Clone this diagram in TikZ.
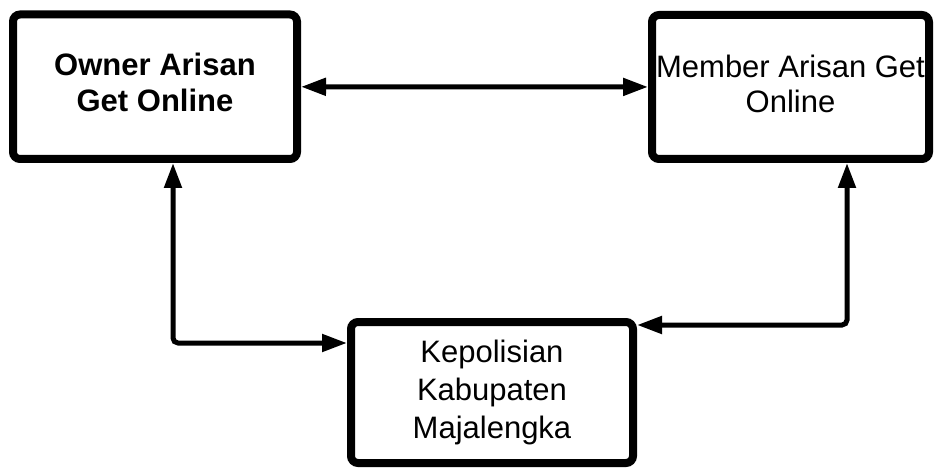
\documentclass[tikz,border=0pt]{standalone}
\usepackage{fontspec}
\setmainfont{Liberation Sans}
\usetikzlibrary{arrows.meta}
\begin{document}
\begin{tikzpicture}[x=1pt,y=-1pt,
  box/.style={draw=black, line width=8pt, rounded corners=7pt, inner sep=0pt, fill=white, align=center},
  conn/.style={line width=5pt, {Triangle[length=25pt,width=17pt]}-{Triangle[length=25pt,width=17pt]}, rounded corners=5pt}]
\useasboundingbox[fill=white] (0,0) rectangle (935,468);
\node[box, minimum width=284pt, minimum height=144.5pt, text depth=8pt, font=\fontsize{31}{36}\selectfont\bfseries] (owner) at (155,86.75) {Owner Arisan\\Get Online};
\node[box, minimum width=277pt, minimum height=144pt, text depth=7pt, font=\fontsize{31}{35}\selectfont] (member) at (790.5,87) {Member Arisan Get\\Online};
\node[box, minimum width=282pt, minimum height=141pt, font=\fontsize{31}{38}\selectfont] (kep) at (492,392.5) {Kepolisian\\Kabupaten\\Majalengka};
\coordinate (lc) at (173,343);
\coordinate (rc) at (847,325);
\draw[conn] (owner) -- (member);
\draw[conn] (owner.south -| lc) |- (kep.west |- lc);
\draw[conn] (member.south -| rc) |- (kep.east |- rc);
\end{tikzpicture}
\end{document}
